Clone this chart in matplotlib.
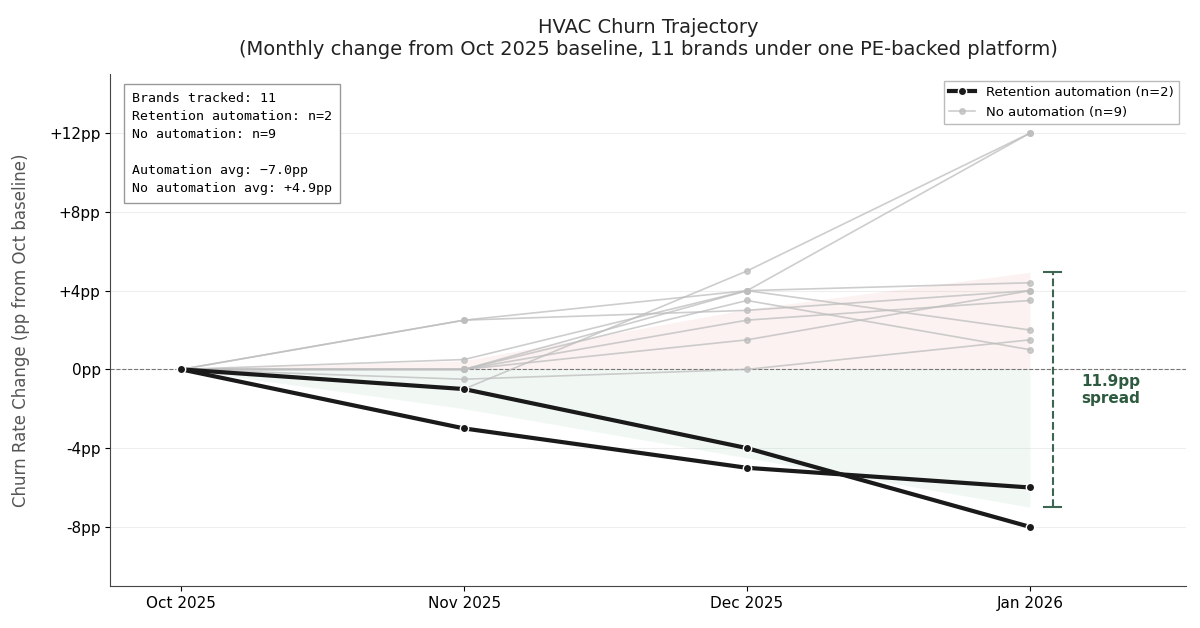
import numpy as np
import matplotlib.pyplot as plt

months = ['Oct 2025', 'Nov 2025', 'Dec 2025', 'Jan 2026']

# retention automation brands (pp change from Oct baseline)
auto_brands = [
    [0, -1.0, -4.0, -8.0],
    [0, -3.0, -5.0, -6.0],
]

# brands without automation
no_auto_brands = [
    [0, -1.0, 5.0, 12.0],
    [0, 0.5, 4.0, 12.0],
    [0, 2.5, 4.0, 4.4],
    [0, 0.0, 4.0, 2.0],
    [0, 0.0, 3.5, 1.0],
    [0, 2.5, 3.0, 4.0],
    [0, 0.0, 2.5, 3.5],
    [0, 0.0, 1.5, 4.0],
    [0, -0.5, 0.0, 1.5],
]

ytick_vals = [-8, -4, 0, 4, 8, 12]
ytick_labels = ['-8pp', '-4pp', '0pp', '+4pp', '+8pp', '+12pp']

x = np.arange(len(months))
auto_mean = np.mean(auto_brands, axis=0)
no_auto_mean = np.mean(no_auto_brands, axis=0)
spread = no_auto_mean[-1] - auto_mean[-1]

fig, ax = plt.subplots(figsize=(12, 6.28), dpi=100)

ax.fill_between(x, 0, no_auto_mean, color='#e8a8a0', alpha=0.14, lw=0)
ax.fill_between(x, 0, auto_mean, color='#9fd4b8', alpha=0.14, lw=0)

for i, vals in enumerate(no_auto_brands):
    ax.plot(x, vals, color='#bdbdbd', lw=1.2, marker='o', ms=4,
            alpha=0.75, label='No automation (n=9)' if i == 0 else None, zorder=2)

for i, vals in enumerate(auto_brands):
    ax.plot(x, vals, color='#1a1a1a', lw=3, marker='o', ms=6,
            markeredgecolor='white', markeredgewidth=1,
            label='Retention automation (n=2)' if i == 0 else None, zorder=4)

ax.axhline(0, color='#777777', lw=0.8, ls='--', zorder=1)

# spread bracket
bx = x[-1] + 0.08
ax.plot([bx, bx], [auto_mean[-1], no_auto_mean[-1]], color='#3d6652', lw=1.5, ls='--')
for yv in [auto_mean[-1], no_auto_mean[-1]]:
    ax.plot([bx - 0.03, bx + 0.03], [yv, yv], color='#3d6652', lw=1.5)
ax.text(bx + 0.1, (auto_mean[-1] + no_auto_mean[-1]) / 2, f'{spread:.1f}pp\nspread',
        color='#2e5a40', fontsize=11, fontweight='bold', va='center', ha='left')

info = ('Brands tracked: 11\n'
        'Retention automation: n=2\n'
        'No automation: n=9\n\n'
        f'Automation avg: \u2212{abs(auto_mean[-1]):.1f}pp\n'
        f'No automation avg: +{no_auto_mean[-1]:.1f}pp')
ax.text(0.02, 0.965, info, transform=ax.transAxes, va='top', ha='left',
        family='DejaVu Sans Mono', fontsize=9.5, linespacing=1.5,
        bbox=dict(boxstyle='square,pad=0.6', facecolor='white', edgecolor='#999999'))

ax.set_xlim(-0.25, 3.55)
ax.set_ylim(-11, 15)
ax.set_xticks(x)
ax.set_xticklabels(months)
ax.set_yticks(ytick_vals)
ax.set_yticklabels(ytick_labels)
ax.tick_params(labelsize=11)
ax.grid(axis='y', color='#eeeeee', lw=0.8)
ax.set_axisbelow(True)
for s in ['top', 'right']:
    ax.spines[s].set_visible(False)
for s in ['left', 'bottom']:
    ax.spines[s].set_color('#444444')

ax.set_ylabel('Churn Rate Change (pp from Oct baseline)', fontsize=12, color='#555555', labelpad=14)
ax.set_title('HVAC Churn Trajectory\n(Monthly change from Oct 2025 baseline, 11 brands under one PE-backed platform)',
             fontsize=14, color='#222222', pad=14)

handles, labels = ax.get_legend_handles_labels()
order = [labels.index('Retention automation (n=2)'), labels.index('No automation (n=9)')]
ax.legend([handles[i] for i in order], [labels[i] for i in order], loc='upper right',
          fontsize=9.5, fancybox=False, edgecolor='#bbbbbb', framealpha=1)

fig.subplots_adjust(left=0.092, right=0.988, top=0.882, bottom=0.067)
fig.savefig('out.png', dpi=100)
